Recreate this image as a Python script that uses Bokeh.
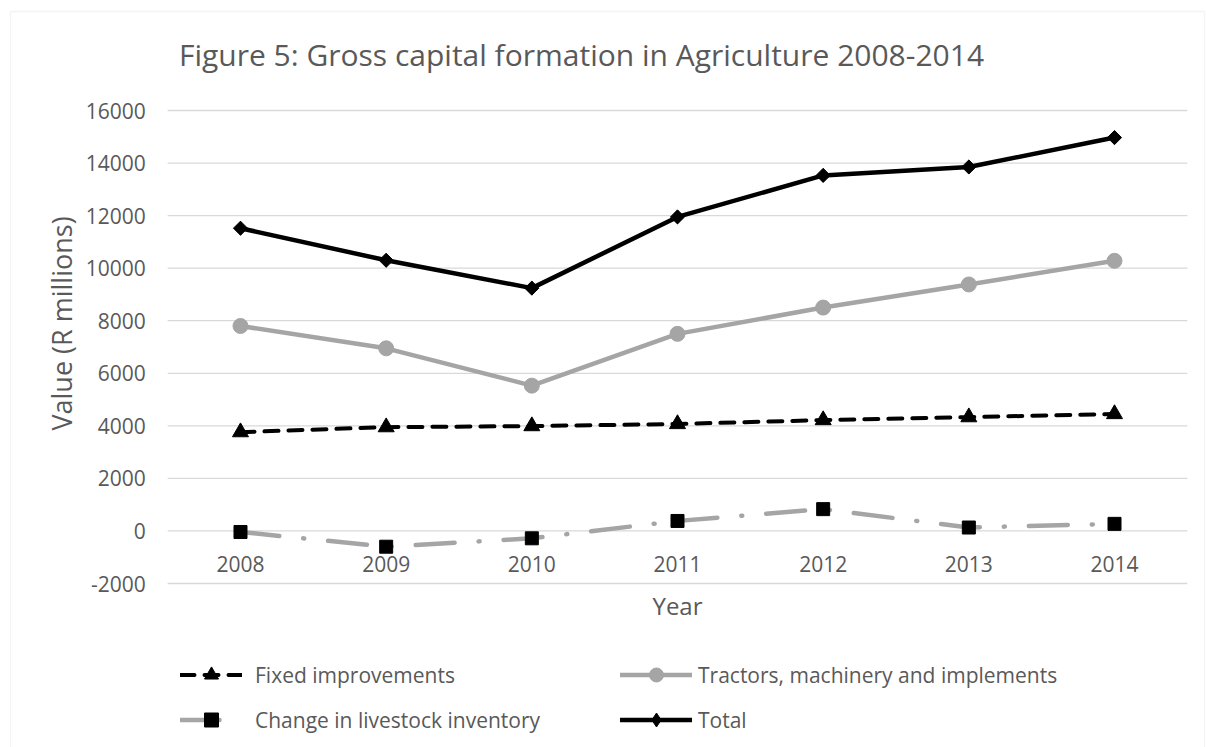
import math
from bokeh.plotting import figure
from bokeh.models import Range1d, Legend, LegendItem, Label, BoxAnnotation
from bokeh.core.properties import value
from bokeh.embed import file_html
from bokeh.resources import INLINE

years = ["2008", "2009", "2010", "2011", "2012", "2013", "2014"]
fixed_improvements = [3760, 3950, 3990, 4070, 4220, 4330, 4450]
tractors = [7800, 6950, 5530, 7500, 8500, 9380, 10280]
livestock = [-40, -600, -280, 380, 830, 130, 270]
total = [11520, 10300, 9240, 11950, 13530, 13850, 14970]
y_ticks = [-2000, 0, 2000, 4000, 6000, 8000, 10000, 12000, 14000, 16000]

title_text = "Figure 5: Gross capital formation in Agriculture 2008-2014"
y_label = "Value (R millions)"
x_label = "Year"

FONT = "Open Sans"
TXT = "#595959"
GRID = "#d9d9d9"
GREY = "#a5a5a5"

xi = list(range(len(years)))
y_min, y_max = y_ticks[0], y_ticks[-1]
ppu_y = 473 / (y_max - y_min)          # pixels per value unit
ppu_x = 145.67                          # pixels per category
x_lo = -0.5
x_hi = len(years) - 0.5

p = figure(width=1206, height=747,
           x_range=Range1d(-240 / ppu_x, len(years) - 1 + 92 / ppu_x),
           y_range=Range1d(y_min - 164 / ppu_y, y_max + 110 / ppu_y),
           output_backend="svg", toolbar_location=None,
           x_axis_location=None, y_axis_location=None,
           min_border=0, min_border_left=0, min_border_right=0,
           min_border_top=0, min_border_bottom=0)
p.title.visible = False
p.outline_line_color = None
p.background_fill_color = "white"
p.border_fill_color = "white"
p.xgrid.visible = False
p.ygrid.visible = False

# outer chart border
p.add_layout(BoxAnnotation(left=-230 / ppu_x, right=len(years) - 1 + 90 / ppu_x,
                           top=y_max + 99 / ppu_y, bottom=y_min - 400 / ppu_y,
                           fill_alpha=0, line_color=GRID, line_width=1.3))

# gridlines
p.segment(x0=x_lo, x1=x_hi, y0=y_ticks, y1=y_ticks, line_color=GRID, line_width=1.3)

# tick labels
p.text(x=[x_lo] * len(y_ticks), y=y_ticks, text=[str(v) for v in y_ticks], x_offset=-22,
       text_align="right", text_baseline="middle", text_font=value(FONT),
       text_font_size="21px", text_color=TXT)
p.text(x=xi, y=[0] * len(years), text=years, y_offset=33,
       text_align="center", text_baseline="middle", text_font=value(FONT),
       text_font_size="21px", text_color=TXT)

# series
r_fix_l = p.line(xi, fixed_improvements, line_color="black", line_width=4, line_dash="14 10", line_cap="round")
r_fix_m = p.scatter(xi, fixed_improvements, marker="triangle", size=16, color="black")

r_tr_l = p.line(xi, tractors, line_color=GREY, line_width=4.5, line_cap="round")
r_tr_m = p.scatter(xi, tractors, marker="circle", size=15, color=GREY)

r_lv_l = p.line(xi, livestock, line_color=GREY, line_width=4.5, line_dash="39 24 1 24", line_cap="round")
r_lv_m = p.scatter(xi, livestock, marker="square", size=13, color="black")

r_tot_l = p.line(xi, total, line_color="black", line_width=4.5, line_cap="round")
r_tot_m = p.scatter(xi, total, marker="square", size=10, angle=math.pi / 4, color="black")
# diamond symbol (sits inside the rotated squares) used for the legend key
r_tot_key = p.scatter(xi, total, marker="diamond", size=13, color="black")

# title and axis titles
p.add_layout(Label(x=(581 - 240) / ppu_x, y=y_max + 56 / ppu_y, text=title_text,
                   text_align="center", text_baseline="middle",
                   text_font=FONT, text_font_size="30px", text_color=TXT))
p.add_layout(Label(x=(x_lo + x_hi) / 2, y=y_min - 22 / ppu_y, text=x_label,
                   text_align="center", text_baseline="middle",
                   text_font=FONT, text_font_size="24px", text_color=TXT))
p.add_layout(Label(x=(61 - 240) / ppu_x, y=y_max - (323 - 110) / ppu_y, text=y_label, angle=math.pi / 2,
                   text_align="center", text_baseline="middle",
                   text_font=FONT, text_font_size="27px", text_color=TXT))


def make_legend(items, x, glyph_w, standoff):
    lg = Legend(items=items, location=(x, 10), orientation="vertical",
                glyph_width=glyph_w, glyph_height=35, label_height=35, spacing=10,
                label_standoff=standoff, padding=0, margin=0,
                border_line_color=None, background_fill_alpha=0,
                label_text_font=FONT, label_text_font_size="21px", label_text_color=TXT)
    p.add_layout(lg, "center")

make_legend([LegendItem(label="Fixed improvements", renderers=[r_fix_l, r_fix_m]),
             LegendItem(label="Change in livestock inventory", renderers=[r_lv_l, r_lv_m])],
            180, 62, 13)
make_legend([LegendItem(label="Tractors, machinery and implements", renderers=[r_tr_l, r_tr_m]),
             LegendItem(label="Total", renderers=[r_tot_l, r_tot_key])],
            620, 72, 6)

open("out.html", "w").write(file_html(p, INLINE))
